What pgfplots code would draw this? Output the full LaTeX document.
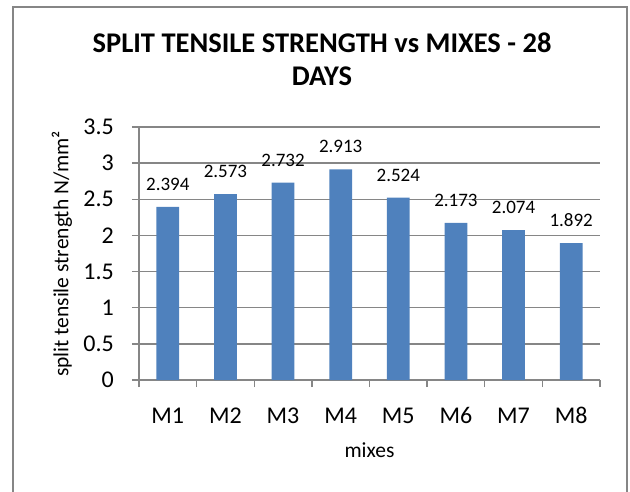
\documentclass[border=0pt]{standalone}
\usepackage{fontspec}
\setmainfont{Carlito}
\usepackage{pgfplots}
\pgfplotsset{compat=1.18}
\definecolor{barblue}{RGB}{79,129,189}
\definecolor{gridgray}{RGB}{134,134,134}
\begin{document}
\begin{tikzpicture}
\useasboundingbox (-139bp,-112bp) rectangle (491bp,380bp);
\begin{axis}[
  at={(0,0)}, anchor=south west,
  width=461bp, height=253bp, scale only axis,
  xmin=0.5, xmax=8.5, ymin=0, ymax=3.5,
  axis lines*=left,
  axis line style={gridgray, line width=1.3bp, -},
  ytick={0,0.5,1,1.5,2,2.5,3,3.5},
  ymajorgrids,
  grid style={gridgray, line width=1.3bp},
  xtick={0.5,1.5,2.5,3.5,4.5,5.5,6.5,7.5,8.5},
  xticklabels={},
  extra x ticks={1,2,3,4,5,6,7,8},
  extra x tick labels={M1,M2,M3,M4,M5,M6,M7,M8},
  extra x tick style={major tick length=0pt, grid=none},
  tick align=outside,
  major tick length=7bp,
  tick style={gridgray, line width=1.3bp},
  /pgf/number format/assume math mode=true,
  ticklabel style={font=\fontsize{24bp}{28bp}\selectfont},
  xticklabel style={anchor=base, inner sep=0pt, yshift=-43bp},
  yticklabel style={anchor=east, inner sep=0pt, xshift=-18bp},
]
\addplot[ybar, fill=barblue, draw=none, bar width=22.7bp,
  nodes near coords, point meta=explicit symbolic,
  nodes near coords style={font=\fontsize{19bp}{22bp}\selectfont, anchor=base, inner sep=0pt, yshift=16.5bp, text=black}]
  coordinates {
  (1,2.394) [2.394]
  (2,2.573) [2.573]
  (3,2.732) [2.732]
  (4,2.913) [2.913]
  (5,2.524) [2.524]
  (6,2.173) [2.173]
  (7,2.074) [2.074]
  (8,1.892) [1.892]
  };
\end{axis}
\draw[gridgray, line width=1.5bp] (-126bp,-130bp) -- (-126bp,373bp) -- (488bp,373bp) -- (488bp,-130bp);
\node[anchor=base, font=\bfseries\fontsize{28.5bp}{32bp}\selectfont] at (183bp,327bp) {SPLIT TENSILE STRENGTH vs MIXES - 28};
\node[anchor=base, font=\bfseries\fontsize{28.5bp}{32bp}\selectfont] at (183bp,294bp) {DAYS};
\node[rotate=90, font=\fontsize{21.5bp}{24bp}\selectfont] at (-77bp,126bp) {split tensile strength N/mm²};
\node[anchor=base, font=\fontsize{21.5bp}{24bp}\selectfont] at (230.5bp,-77bp) {mixes};
\end{tikzpicture}
\end{document}
